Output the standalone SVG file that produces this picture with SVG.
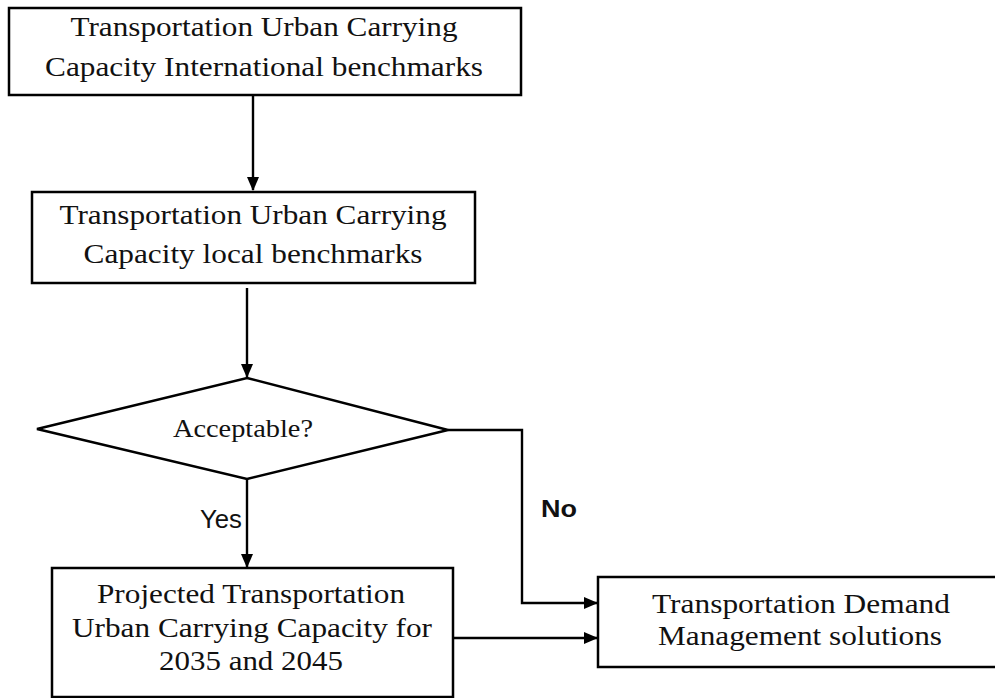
<svg xmlns="http://www.w3.org/2000/svg" width="995" height="698" viewBox="0 0 995 698">
<style>
.box{fill:#fff;stroke:#000;stroke-width:2.5}
.t{font-family:"Liberation Serif","Times New Roman",serif;fill:#111;text-anchor:middle}
.lbl{font-family:"Liberation Sans",Arial,sans-serif;fill:#111}
.c{fill:none;stroke:#000;stroke-width:2.4}
</style>
<defs>
<marker id="ah" markerWidth="14" markerHeight="12" refX="13" refY="6" orient="auto" markerUnits="userSpaceOnUse">
<path d="M0,0 L14,6 L0,12 Z" fill="#000"/>
</marker>
</defs>
<rect width="995" height="698" fill="#fff"/>
<g id="connectors">
<path class="c" d="M253,96 V190" marker-end="url(#ah)"/>
<path class="c" d="M247,288 V377" marker-end="url(#ah)"/>
<path class="c" d="M247,479 V567" marker-end="url(#ah)"/>
<path class="c" d="M448,430 H522 V603 H597" marker-end="url(#ah)"/>
<path class="c" d="M453,638 H597" marker-end="url(#ah)"/>
<text class="lbl" x="200" y="528" font-size="25" textLength="42" lengthAdjust="spacingAndGlyphs">Yes</text>
<text class="lbl" x="541" y="517" font-size="24" font-weight="bold" textLength="36" lengthAdjust="spacingAndGlyphs">No</text>
</g>
<g id="n1">
<rect class="box" x="9" y="8" width="512" height="87"/>
<text class="t" x="264" y="36" font-size="27" textLength="387" lengthAdjust="spacingAndGlyphs">Transportation Urban Carrying</text>
<text class="t" x="264" y="76" font-size="27" textLength="438" lengthAdjust="spacingAndGlyphs">Capacity International benchmarks</text>
</g>
<g id="n2">
<rect class="box" x="32" y="192" width="443" height="91"/>
<text class="t" x="253" y="224" font-size="27" textLength="387" lengthAdjust="spacingAndGlyphs">Transportation Urban Carrying</text>
<text class="t" x="253" y="263" font-size="27" textLength="339" lengthAdjust="spacingAndGlyphs">Capacity local benchmarks</text>
</g>
<g id="n3">
<polygon class="box" points="247,378 448,430 247,479 37,429"/>
<text class="t" x="243" y="437" font-size="26" textLength="140" lengthAdjust="spacingAndGlyphs">Acceptable?</text>
</g>
<g id="n4">
<rect class="box" x="52" y="568" width="401" height="129"/>
<text class="t" x="251" y="603" font-size="28" textLength="308" lengthAdjust="spacingAndGlyphs">Projected Transportation</text>
<text class="t" x="252" y="637" font-size="28" textLength="360" lengthAdjust="spacingAndGlyphs">Urban Carrying Capacity for</text>
<text class="t" x="251" y="670" font-size="28" textLength="184" lengthAdjust="spacingAndGlyphs">2035 and 2045</text>
</g>
<g id="n5">
<rect class="box" x="598" y="577" width="410" height="90"/>
<text class="t" x="801" y="613" font-size="28" textLength="298" lengthAdjust="spacingAndGlyphs">Transportation Demand</text>
<text class="t" x="800" y="645" font-size="28" textLength="284" lengthAdjust="spacingAndGlyphs">Management solutions</text>
</g>
</svg>
